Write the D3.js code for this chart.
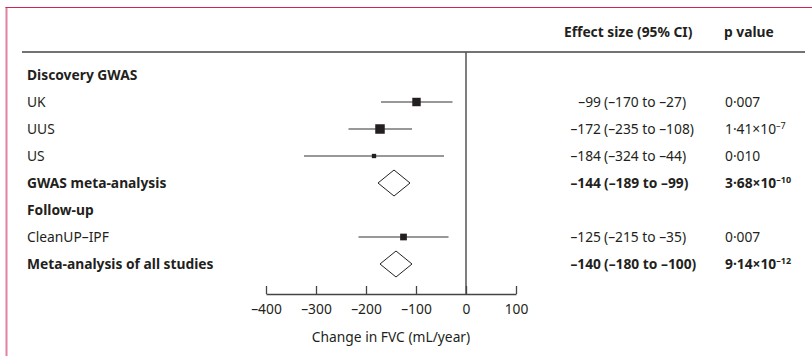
<!DOCTYPE html>
<html>
<head>
<meta charset="utf-8">
<script src="https://cdn.jsdelivr.net/npm/d3@7"></script>
<style>
  body { margin: 0; background: #fff; }
  text { font-family: "Noto Sans", sans-serif; fill: #231f20; }
</style>
</head>
<body>
<div id="my_dataviz"></div>
<script>
// rows of the forest plot
var labels = ["Discovery GWAS", "UK", "UUS", "US", "GWAS meta-analysis", "Follow-up", "CleanUP–IPF", "Meta-analysis of all studies"];
var rowType = ["group", "study", "study", "study", "summary", "group", "study", "summary"];
var est = [null, -99, -172, -184, -144, null, -125, -140];
var lo = [null, -170, -235, -324, -189, null, -215, -180];
var hi = [null, -27, -108, -44, -99, null, -35, -100];
var pMant = [null, "0·007", "1·41", "0·010", "3·68", null, "0·007", "9·14"];
var pExp = [null, null, "–7", null, "–10", null, null, "–12"];
var xTicks = [-400, -300, -200, -100, 0, 100];

var width = 812, height = 356;
var fs = 13.8;

var svg = d3.select("#my_dataviz")
  .append("svg")
    .attr("width", width)
    .attr("height", height);

// frame
svg.append("rect").attr("x", 5.5).attr("y", 7).attr("width", 2).attr("height", height - 7).attr("fill", "#e3819f");
svg.append("line").attr("x1", 5.5).attr("x2", width).attr("y1", 7.5).attr("y2", 7.5)
  .attr("stroke", "#d4234f").attr("stroke-width", 1);

var x = d3.scaleLinear().domain([-400, 100]).range([266, 516]);
var y = d3.scalePoint().domain(d3.range(labels.length)).range([75, 264]);

// square side scales with precision (1/SE)
var se = function(i) { return (hi[i] - lo[i]) / 3.92; };
var side = d3.scaleLinear().domain([0, 1 / 32.4]).range([0, 9.5]);

var dash = function(v) { return v < 0 ? "–" + Math.abs(v) : "" + v; };

// header
svg.append("text").attr("x", 564).attr("y", 37).attr("font-weight", "bold").attr("font-size", fs)
  .text("Effect size (95% CI)");
svg.append("text").attr("x", 724).attr("y", 37).attr("font-weight", "bold").attr("font-size", fs)
  .text("p value");
svg.append("line").attr("x1", 22).attr("x2", 805).attr("y1", 52).attr("y2", 52)
  .attr("stroke", "#444").attr("stroke-width", 1.5);

// zero line
svg.append("line").attr("x1", x(0)).attr("x2", x(0)).attr("y1", 52).attr("y2", 294)
  .attr("stroke", "#555").attr("stroke-width", 1.5);

// axis
var axis = svg.append("g")
  .attr("transform", "translate(0,294)")
  .call(d3.axisBottom(x).tickValues(xTicks).tickSizeInner(-8).tickSizeOuter(0).tickPadding(10)
    .tickFormat(dash));
axis.select(".domain").attr("stroke", "#444").attr("stroke-width", 1.5);
axis.selectAll(".tick line").attr("stroke", "#444").attr("stroke-width", 1.3);
axis.selectAll(".tick text").attr("font-size", fs).attr("font-family", "Noto Sans").attr("fill", "#231f20");
svg.append("text").attr("x", (x(-400) + x(100)) / 2).attr("y", 342).attr("text-anchor", "middle")
  .attr("font-size", fs).text("Change in FVC (mL/year)");

var rows = svg.selectAll(".row").data(d3.range(labels.length)).enter()
  .append("g").attr("class", "row")
  .attr("transform", function(i) { return "translate(0," + y(i) + ")"; });

rows.append("text")
  .attr("x", 27).attr("dy", "0.35em").attr("font-size", fs)
  .attr("font-weight", function(i) { return rowType[i] == "study" ? "normal" : "bold"; })
  .text(function(i) { return labels[i]; });

var studies = rows.filter(function(i) { return rowType[i] == "study"; });
studies.append("line")
  .attr("x1", function(i) { return x(lo[i]); })
  .attr("x2", function(i) { return x(hi[i]); })
  .attr("stroke", "#333").attr("stroke-width", 1.2);
studies.append("rect")
  .attr("x", function(i) { return x(est[i]) - side(1 / se(i)) / 2; })
  .attr("y", function(i) { return -side(1 / se(i)) / 2; })
  .attr("width", function(i) { return side(1 / se(i)); })
  .attr("height", function(i) { return side(1 / se(i)); })
  .attr("fill", "#231f20");

var summaries = rows.filter(function(i) { return rowType[i] == "summary"; });
summaries.append("path")
  .attr("d", function(i) {
    var c = x(est[i]);
    return "M" + (c - 16) + ",0L" + c + ",-13L" + (c + 16) + ",0L" + c + ",13Z";
  })
  .attr("fill", "#fff").attr("stroke", "#231f20").attr("stroke-width", 1);

// effect size and p value columns
var withVal = rows.filter(function(i) { return est[i] != null; });
withVal.append("text")
  .attr("x", 601).attr("dy", "0.35em").attr("text-anchor", "end").attr("font-size", fs)
  .attr("font-weight", function(i) { return rowType[i] == "summary" ? "bold" : "normal"; })
  .text(function(i) { return dash(est[i]); });
withVal.append("text")
  .attr("x", 604).attr("dy", "0.35em").attr("font-size", fs)
  .attr("font-weight", function(i) { return rowType[i] == "summary" ? "bold" : "normal"; })
  .text(function(i) { return "(" + dash(lo[i]) + " to " + dash(hi[i]) + ")"; });

var pt = withVal.append("text")
  .attr("x", 725).attr("dy", "0.35em").attr("font-size", fs)
  .attr("font-weight", function(i) { return rowType[i] == "summary" ? "bold" : "normal"; });
pt.append("tspan").text(function(i) { return pMant[i] + (pExp[i] ? "×10" : ""); });
pt.filter(function(i) { return pExp[i]; }).append("tspan")
  .attr("font-size", 9).attr("dy", "-0.55em")
  .text(function(i) { return pExp[i]; });
</script>
</body>
</html>
